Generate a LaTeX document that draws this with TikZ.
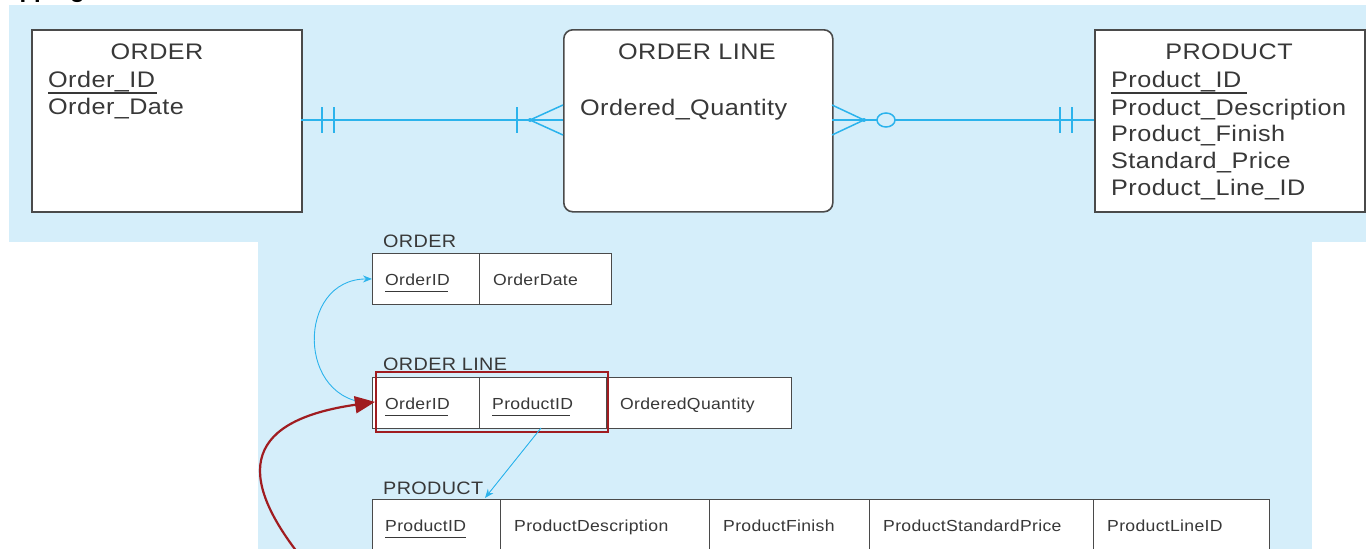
\documentclass[tikz,border=0pt]{standalone}
\usepackage{fontspec}
\setmainfont{Liberation Sans}
\newfontfamily\erfont[FakeStretch=1.12,LetterSpace=2]{Liberation Sans}
\newfontfamily\relfont[FakeStretch=1.1,LetterSpace=2]{Liberation Sans}
\usetikzlibrary{arrows.meta}
\definecolor{bgblue}{HTML}{D5EEFA}
\definecolor{cyanline}{HTML}{2BB3EC}
\definecolor{darkred}{HTML}{A01C20}
\definecolor{txt}{HTML}{383838}
\definecolor{boxline}{HTML}{4A4A4A}
\tikzset{
  erbox/.style={draw=boxline, line width=1.6pt, fill=white},
  ertitle/.style={anchor=base, font=\erfont\fontsize{22.5}{24}\selectfont, text=txt, inner sep=0pt},
  erattr/.style={anchor=base west, font=\erfont\fontsize{22.5}{24}\selectfont, text=txt, inner sep=0pt},
  conn/.style={draw=cyanline, line width=1.5pt},
  cell/.style={draw=boxline, line width=0.9pt, fill=white, anchor=north west, inner sep=0pt, minimum height=51pt},
  reltitle/.style={anchor=base west, font=\relfont\fontsize{18}{20}\selectfont, text=txt, inner sep=0pt},
  relattr/.style={anchor=base west, font=\relfont\fontsize{16}{18}\selectfont, text=txt, inner sep=0pt},
  fk/.style={draw=cyanline, line width=0.9pt, -{Stealth[length=9pt,width=7pt]}},
  redarrow/.style={draw=darkred, line width=2.2pt, -{Triangle[length=20pt,width=17pt]}},
  redframe/.style={draw=darkred, line width=1.8pt},
  ul/.style={draw=txt, line width=1.2pt}
}
\begin{document}
\begin{tikzpicture}[x=1pt,y=-1pt]
\useasboundingbox (0,0) rectangle (1366,549);
% title cut off at top
\node[anchor=base west, font=\bfseries\fontsize{24}{26}\selectfont, inner sep=0pt] (title) at (-14,-3) {Mapping};
% backgrounds
\fill[bgblue] (9,5) rectangle (1366,242);
\fill[bgblue] (258,242) rectangle (1312,549);

% ===== ER diagram =====
\node[erbox, anchor=north west, minimum width=270pt, minimum height=182pt, inner sep=0pt] (order) at (31,29) {};
\node[erbox, anchor=north west, minimum width=269pt, minimum height=182pt, inner sep=0pt, rounded corners=9pt] (oline) at (563,29) {};
\node[erbox, anchor=north west, minimum width=270pt, minimum height=182pt, inner sep=0pt] (product) at (1094,29) {};

\node[ertitle] (ordt) at (157,59) {ORDER};
\node[erattr] (oid) at (48,87) {Order\_ID};
\draw[ul] (48,93) -- (157,93);
\node[erattr] (odate) at (48,114) {Order\_Date};

\node[ertitle] (olt) at (697,59) {ORDER LINE};
\node[erattr] (oq) at (580,115) {Ordered\_Quantity};

\node[ertitle] (prt) at (1229,59) {PRODUCT};
\node[erattr] (pid) at (1111,87) {Product\_ID};
\draw[ul] (1111,93) -- (1247,93);
\node[erattr] (pdesc) at (1111,115) {Product\_Description};
\node[erattr] (pfin) at (1111,141) {Product\_Finish};
\node[erattr] (pstd) at (1111,168) {Standard\_Price};
\node[erattr] (pline) at (1111,195) {Product\_Line\_ID};

% relationship lines
\coordinate (r1a) at (301,120);
\coordinate (r1b) at (563,120);
\coordinate (r2a) at (832,120);
\coordinate (r2b) at (1094,120);
\draw[conn] (r1a) -- (r1b);
\draw[conn] (322,107) -- (322,133);
\draw[conn] (334,107) -- (334,133);
\draw[conn] (517,107) -- (517,133);
\draw[conn] (563,105) -- (530,120) -- (563,135);
\fill[cyanline] (530,120) circle (2pt);

\draw[conn] (r2a) -- (877,120);
\draw[conn] (895,120) -- (r2b);
\draw[conn] (832,105) -- (864,120) -- (832,135);
\fill[cyanline] (864,120) circle (2pt);
\draw[conn] (886,120) ellipse (9pt and 7pt);
\draw[conn] (1060,107) -- (1060,133);
\draw[conn] (1072,107) -- (1072,133);

% ===== Relational tables =====
\node[reltitle] (tord) at (383,247) {ORDER};
\node[cell, minimum width=107pt] (oc1) at (372,253) {};
\node[cell, minimum width=132pt] (oc2) at (479,253) {};
\node[relattr] (oc1t) at (385,285) {OrderID};
\draw[ul, line width=0.9pt] (385,291) -- (448,291);
\node[relattr] (oc2t) at (493,285) {OrderDate};

\node[reltitle] (tol) at (383,370) {ORDER LINE};
\node[cell, minimum width=107pt] (lc1) at (372,377) {};
\node[cell, minimum width=127pt] (lc2) at (479,377) {};
\node[cell, minimum width=185pt] (lc3) at (606,377) {};
\node[relattr] (lc1t) at (385,409) {OrderID};
\draw[ul, line width=0.9pt] (385,415) -- (448,415);
\node[relattr] (lc2t) at (492,409) {ProductID};
\draw[ul, line width=0.9pt] (492,415) -- (570,415);
\node[relattr] (lc3t) at (620,409) {OrderedQuantity};

\node[reltitle] (tpr) at (383,494) {PRODUCT};
\node[cell, minimum width=128pt] (pc1) at (372,499) {};
\node[cell, minimum width=209pt] (pc2) at (500,499) {};
\node[cell, minimum width=160pt] (pc3) at (709,499) {};
\node[cell, minimum width=224pt] (pc4) at (869,499) {};
\node[cell, minimum width=176pt] (pc5) at (1093,499) {};
\node[relattr] (pc1t) at (385,531) {ProductID};
\draw[ul, line width=0.9pt] (385,537) -- (466,537);
\node[relattr] (pc2t) at (514,531) {ProductDescription};
\node[relattr] (pc3t) at (723,531) {ProductFinish};
\node[relattr] (pc4t) at (883,531) {ProductStandardPrice};
\node[relattr] (pc5t) at (1107,531) {ProductLineID};

% red highlight frame around composite key
\node[redframe, anchor=north west, minimum width=232pt, minimum height=60pt, inner sep=0pt] (pk) at (375,371) {};

% foreign key arrows
\coordinate (fkend) at (485,498);
\draw[fk] (lc1.west) .. controls (296,403) and (296,279) .. (oc1.west);
\draw[fk] (541,428) -- (fkend);

% red arrow
\coordinate (redstart) at (305,562);
\draw[redarrow] (redstart) .. controls (230,470) and (250,420) .. (pk.west);
\end{tikzpicture}
\end{document}
